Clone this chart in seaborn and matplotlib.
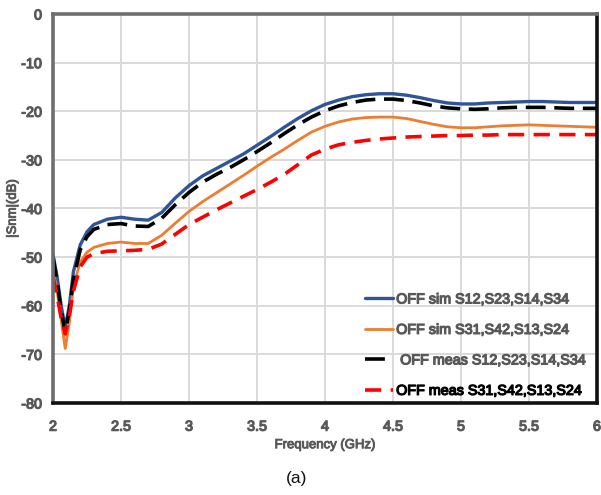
import matplotlib
matplotlib.use("Agg")
import matplotlib.pyplot as plt
from matplotlib import font_manager as fm
from matplotlib import patheffects as pe
import seaborn as sns
import pandas as pd

# Frequency sweep (GHz)
freq = [2.0, 2.03, 2.06, 2.09, 2.12, 2.15, 2.2, 2.25, 2.3, 2.4, 2.5, 2.6, 2.7, 2.8, 2.9,
        3.0, 3.1, 3.2, 3.3, 3.4, 3.5, 3.6, 3.7, 3.8, 3.9, 4.0, 4.1, 4.2, 4.3, 4.4, 4.5,
        4.6, 4.7, 4.8, 4.9, 5.0, 5.1, 5.2, 5.3, 5.4, 5.5, 5.6, 5.7, 5.8, 5.9, 6.0]

# |Snm| in dB for each trace
sim_s12 = [-49.5, -54, -60, -64.5, -60, -53, -47.5, -44.8, -43.3, -42.2, -41.8, -42.2, -42.4,
           -40.8, -37.8, -35.3, -33.3, -31.8, -30.3, -28.8, -27.0, -25.2, -23.3, -21.5, -19.9,
           -18.6, -17.7, -17.0, -16.6, -16.4, -16.4, -16.7, -17.2, -17.8, -18.3, -18.5, -18.5,
           -18.3, -18.2, -18.1, -18.0, -18.0, -18.1, -18.2, -18.2, -18.2]
sim_s31 = [-52.5, -57, -63, -68.8, -63.5, -56, -51, -49, -48, -47.2, -46.9, -47.2, -47.2,
           -45.5, -43.0, -40.6, -38.6, -36.8, -35.0, -33.2, -31.3, -29.5, -27.8, -26.0, -24.3,
           -23.1, -22.2, -21.6, -21.3, -21.2, -21.2, -21.5, -22.1, -22.7, -23.2, -23.4, -23.4,
           -23.2, -23.0, -22.9, -22.8, -22.9, -23.0, -23.1, -23.2, -23.3]
meas_s12 = [-50, -55, -61, -65.5, -61, -54.5, -48.5, -45.8, -44.3, -43.3, -43.1, -43.6, -43.7,
            -42.0, -39.2, -36.7, -34.6, -33.0, -31.6, -30.0, -28.3, -26.5, -24.6, -22.8, -21.2,
            -19.9, -18.9, -18.2, -17.7, -17.5, -17.5, -17.8, -18.3, -18.9, -19.3, -19.5, -19.6,
            -19.5, -19.3, -19.2, -19.2, -19.2, -19.3, -19.4, -19.4, -19.4]
meas_s31 = [-54, -58, -62.5, -65.8, -62, -57, -52, -50, -49.3, -48.8, -48.7, -48.6, -48.4,
            -47.3, -45.3, -43.3, -41.8, -40.3, -38.9, -37.5, -36.1, -34.6, -33.0, -31.0, -29.0,
            -27.8, -26.9, -26.4, -26.0, -25.7, -25.5, -25.3, -25.2, -25.1, -25.0, -25.0, -24.9,
            -24.9, -24.8, -24.8, -24.8, -24.8, -24.8, -24.8, -24.8, -24.8]

labels = ["OFF sim S12,S23,S14,S34", "OFF sim S31,S42,S13,S24",
          " OFF meas S12,S23,S14,S34", "OFF meas S31,S42,S13,S24"]
series = [sim_s12, sim_s31, meas_s12, meas_s31]
xtick_vals = [2, 2.5, 3, 3.5, 4, 4.5, 5, 5.5, 6]
xtick_text = ["2", "2.5", "3", "3.5", "4", "4.5", "5", "5.5", "6"]

df = pd.concat([pd.DataFrame({"Frequency": freq, "S": s, "trace": lab})
                for lab, s in zip(labels, series)], ignore_index=True)

sns.set_theme(style="whitegrid")
plt.rcParams["axes.unicode_minus"] = False

# narrow sans for the labels; a thin stroke of the same colour thickens the strokes
names = {f.name for f in fm.fontManager.ttflist}
if "Liberation Sans Narrow" in names:
    label_family, scale = "Liberation Sans Narrow", 1.0
else:
    label_family, scale = "Liberation Sans", 0.86
plt.rcParams["font.family"] = [label_family, "DejaVu Sans"]


def embolden(text, color, w=0.9):
    text.set_color(color)
    text.set_path_effects([pe.withStroke(linewidth=w, foreground=color)])


fig = plt.figure(figsize=(6.01, 4.95), dpi=100)
ax = fig.add_axes([0.0882, 0.1859, 0.9051, 0.7858])

palette = {labels[0]: "#2f5597", labels[1]: "#ed7d31", labels[2]: "#000000", labels[3]: "#ff0000"}
dashes = {labels[0]: "", labels[1]: "", labels[2]: (5.5, 2.4), labels[3]: (4.5, 2.6)}
widths = {labels[0]: 2.4, labels[1]: 2.0, labels[2]: 2.6, labels[3]: 2.6}

sns.lineplot(data=df, x="Frequency", y="S", hue="trace", style="trace",
             palette=palette, dashes=dashes, sort=False, ax=ax, legend=False)
for line, lab in zip(ax.get_lines(), labels):
    line.set_linewidth(widths[lab])
    line.set_label(lab)

ax.set_xlim(2, 6)
ax.set_ylim(-80, 0)
ax.set_xticks(xtick_vals)
ax.set_xticklabels(xtick_text)
ax.set_yticks(range(-80, 1, 10))
ax.grid(True, color="#d9d9d9", linewidth=1.4)
ax.tick_params(axis="both", labelsize=12 * scale, colors="#595959", pad=8, length=0)
ax.tick_params(axis="x", pad=12)
for t in ax.get_xticklabels() + ax.get_yticklabels():
    embolden(t, "#595959")

ax.spines["top"].set_color("#6e6e6e")
ax.spines["left"].set_color("#6e6e6e")
ax.spines["bottom"].set_color("#111111")
ax.spines["right"].set_color("#111111")
for sp in ax.spines.values():
    sp.set_linewidth(2.6)
    sp.set_visible(True)

ax.set_xlabel("Frequency (GHz)", fontsize=11 * scale, labelpad=4)
embolden(ax.xaxis.label, "#595959", 0.7)
ax.set_ylabel("|Snm|(dB)", fontsize=11 * scale)
embolden(ax.yaxis.label, "#595959", 0.7)
ax.yaxis.set_label_coords(-0.063, 0.5)

leg = ax.legend(loc="lower right", bbox_to_anchor=(1.005, -0.02), frameon=False,
                fontsize=12 * scale, handlelength=2.0, handletextpad=0.2, labelspacing=1.15)
for i, txt in enumerate(leg.get_texts()):
    embolden(txt, "#000000" if i == 3 else "#595959")

fig.text(0.493, 0.034, "(a)", fontsize=12.5, color="#111111", ha="center", va="center",
         family=["Liberation Sans", "DejaVu Sans"])

fig.savefig("out.png", dpi=100, facecolor="white")
